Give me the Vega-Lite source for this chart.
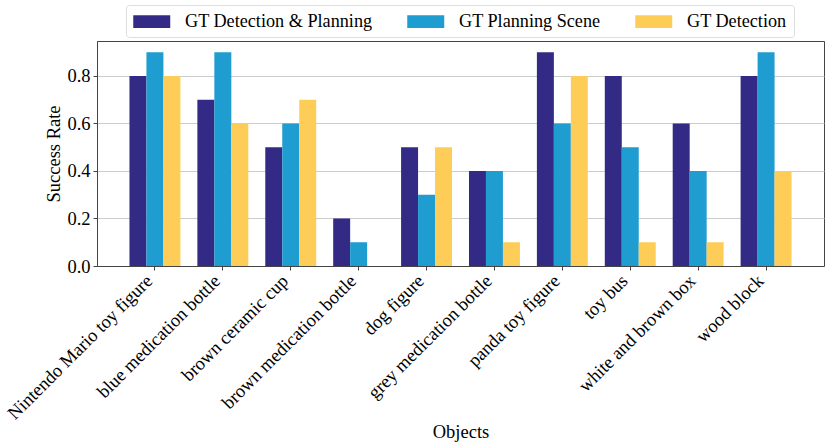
{
  "$schema": "https://vega.github.io/schema/vega-lite/v6.json",
  "autosize": {"type": "none"},
  "padding": {"left": 97, "top": 41, "right": 6, "bottom": 182},
  "width": 727,
  "height": 225,
  "background": "white",
  "config": {
    "view": {"stroke": "#444444", "strokeWidth": 1},
    "font": "Liberation Serif",
    "axis": {
      "labelFont": "Liberation Serif",
      "titleFont": "Liberation Serif",
      "labelFontSize": 18.5,
      "titleFontSize": 18.5,
      "titleFontWeight": "normal",
      "labelColor": "black",
      "titleColor": "black",
      "labelLimit": 400,
      "domainColor": "#444444",
      "tickColor": "#444444",
      "tickSize": 4,
      "gridColor": "#cccccc",
      "gridWidth": 1
    },
    "legend": {
      "labelFont": "Liberation Serif",
      "labelFontSize": 18.2,
      "labelColor": "black",
      "labelLimit": 400
    }
  },
  "data": {
    "values": [
      {"object": "Nintendo Mario toy figure", "setting": "GT Detection & Planning", "rate": 0.8},
      {"object": "Nintendo Mario toy figure", "setting": "GT Planning Scene", "rate": 0.9},
      {"object": "Nintendo Mario toy figure", "setting": "GT Detection", "rate": 0.8},
      {"object": "blue medication bottle", "setting": "GT Detection & Planning", "rate": 0.7},
      {"object": "blue medication bottle", "setting": "GT Planning Scene", "rate": 0.9},
      {"object": "blue medication bottle", "setting": "GT Detection", "rate": 0.6},
      {"object": "brown ceramic cup", "setting": "GT Detection & Planning", "rate": 0.5},
      {"object": "brown ceramic cup", "setting": "GT Planning Scene", "rate": 0.6},
      {"object": "brown ceramic cup", "setting": "GT Detection", "rate": 0.7},
      {"object": "brown medication bottle", "setting": "GT Detection & Planning", "rate": 0.2},
      {"object": "brown medication bottle", "setting": "GT Planning Scene", "rate": 0.1},
      {"object": "brown medication bottle", "setting": "GT Detection", "rate": 0.0},
      {"object": "dog figure", "setting": "GT Detection & Planning", "rate": 0.5},
      {"object": "dog figure", "setting": "GT Planning Scene", "rate": 0.3},
      {"object": "dog figure", "setting": "GT Detection", "rate": 0.5},
      {"object": "grey medication bottle", "setting": "GT Detection & Planning", "rate": 0.4},
      {"object": "grey medication bottle", "setting": "GT Planning Scene", "rate": 0.4},
      {"object": "grey medication bottle", "setting": "GT Detection", "rate": 0.1},
      {"object": "panda toy figure", "setting": "GT Detection & Planning", "rate": 0.9},
      {"object": "panda toy figure", "setting": "GT Planning Scene", "rate": 0.6},
      {"object": "panda toy figure", "setting": "GT Detection", "rate": 0.8},
      {"object": "toy bus", "setting": "GT Detection & Planning", "rate": 0.8},
      {"object": "toy bus", "setting": "GT Planning Scene", "rate": 0.5},
      {"object": "toy bus", "setting": "GT Detection", "rate": 0.1},
      {"object": "white and brown box", "setting": "GT Detection & Planning", "rate": 0.6},
      {"object": "white and brown box", "setting": "GT Planning Scene", "rate": 0.4},
      {"object": "white and brown box", "setting": "GT Detection", "rate": 0.1},
      {"object": "wood block", "setting": "GT Detection & Planning", "rate": 0.8},
      {"object": "wood block", "setting": "GT Planning Scene", "rate": 0.9},
      {"object": "wood block", "setting": "GT Detection", "rate": 0.4}
    ]
  },
  "mark": {"type": "bar"},
  "encoding": {
    "x": {
      "field": "object",
      "type": "nominal",
      "sort": null,
      "scale": {"paddingInner": 0.25, "paddingOuter": 0.478},
      "axis": {
        "title": "Objects",
        "labelAngle": -45,
        "labelAlign": "right",
        "labelBaseline": "top",
        "labelPadding": 1,
        "labelOffset": -12,
        "titleY": 156,
        "titleBaseline": "top"
      }
    },
    "xOffset": {
      "field": "setting",
      "type": "nominal",
      "sort": ["GT Detection & Planning", "GT Planning Scene", "GT Detection"],
      "scale": {"paddingInner": 0, "paddingOuter": 0}
    },
    "y": {
      "field": "rate",
      "type": "quantitative",
      "scale": {"domain": [0, 0.947], "nice": false},
      "axis": {
        "title": "Success Rate",
        "values": [0, 0.2, 0.4, 0.6, 0.8],
        "format": ".1f",
        "labelPadding": 3,
        "titlePadding": 3
      }
    },
    "color": {
      "field": "setting",
      "type": "nominal",
      "sort": ["GT Detection & Planning", "GT Planning Scene", "GT Detection"],
      "scale": {
        "domain": ["GT Detection & Planning", "GT Planning Scene", "GT Detection"],
        "range": ["#332a86", "#1f9cd0", "#fdcd57"]
      },
      "legend": {
        "title": null,
        "orient": "none",
        "legendX": 29,
        "legendY": -36,
        "direction": "horizontal",
        "symbolType": "M-1,-0.7L3,-0.7L3,0.7L-1,0.7Z",
        "symbolSize": 342,
        "symbolStrokeWidth": 0,
        "symbolOpacity": 1,
        "labelOffset": 33,
        "columnPadding": 34,
        "padding": 7,
        "strokeColor": "#dddddd",
        "fillColor": "white",
        "cornerRadius": 3
      }
    }
  }
}
